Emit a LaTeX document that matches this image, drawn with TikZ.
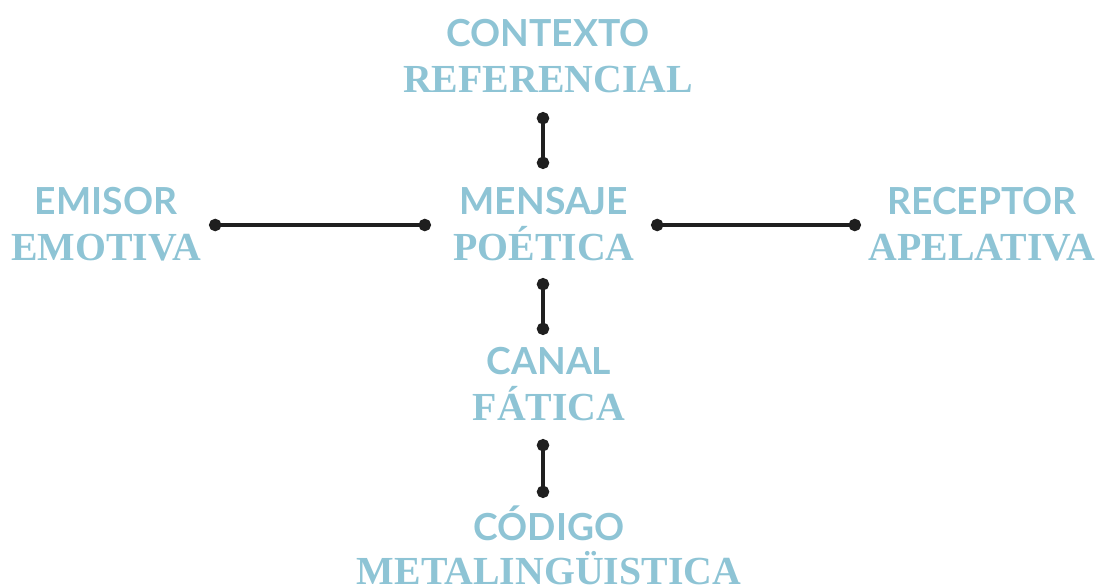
\documentclass[tikz,border=0pt]{standalone}
\usepackage{fontspec}
\usetikzlibrary{arrows.meta}
\newfontfamily\rolefont{Lato}
\newfontfamily\funcfont{Liberation Serif}
\definecolor{celeste}{HTML}{8EC4D5}

\begin{document}
\begin{tikzpicture}[x=0.025cm,y=-0.025cm]
    \tikzstyle{role}=[text=celeste,font=\rolefont\bfseries\fontsize{26.5}{26.5}\selectfont,anchor=base,inner sep=0pt]
    \tikzstyle{func}=[text=celeste,font=\funcfont\bfseries\fontsize{28.3}{28.3}\selectfont,anchor=base,inner sep=0pt]
    \tikzstyle{link}=[{Circle[length=8.8pt]}-{Circle[length=8.8pt]},line width=2.2pt,draw=black!88]
    \useasboundingbox (0,0) rectangle (1100,586);

    % roles and functions
    \node[role] (contexto) at (548,46) {CONTEXTO};
    \node[func] (referencial) at (548,92) {REFERENCIAL};

    \node[role] (emisor) at (106,214) {EMISOR};
    \node[func] (emotiva) at (106,260) {EMOTIVA};

    \node[role] (mensaje) at (544,214) {MENSAJE};
    \node[func] (poetica) at (544,260) {POÉTICA};

    \node[role] (receptor) at (982,214) {RECEPTOR};
    \node[func] (apelativa) at (982,260) {APELATIVA};

    \node[role] (canal) at (549,374) {CANAL};
    \node[func] (fatica) at (549,420) {FÁTICA};

    \node[role] (codigo) at (549,540) {CÓDIGO};
    \node[func] (metaling) at (549,584) {METALINGÜISTICA};

    % link ends
    \coordinate (ctxS) at (543,112);
    \coordinate (msjN) at (543,169);
    \coordinate (emiE) at (209,225);
    \coordinate (msjW) at (431,225);
    \coordinate (msjE) at (651,225);
    \coordinate (recW) at (861,225);
    \coordinate (msjS) at (543,278);
    \coordinate (canN) at (543,335);
    \coordinate (canS) at (543,439);
    \coordinate (codN) at (543,498);

    % links
    \draw[link] (ctxS) -- (msjN);
    \draw[link] (emiE) -- (msjW);
    \draw[link] (msjE) -- (recW);
    \draw[link] (msjS) -- (canN);
    \draw[link] (canS) -- (codN);

\end{tikzpicture}
\end{document}
